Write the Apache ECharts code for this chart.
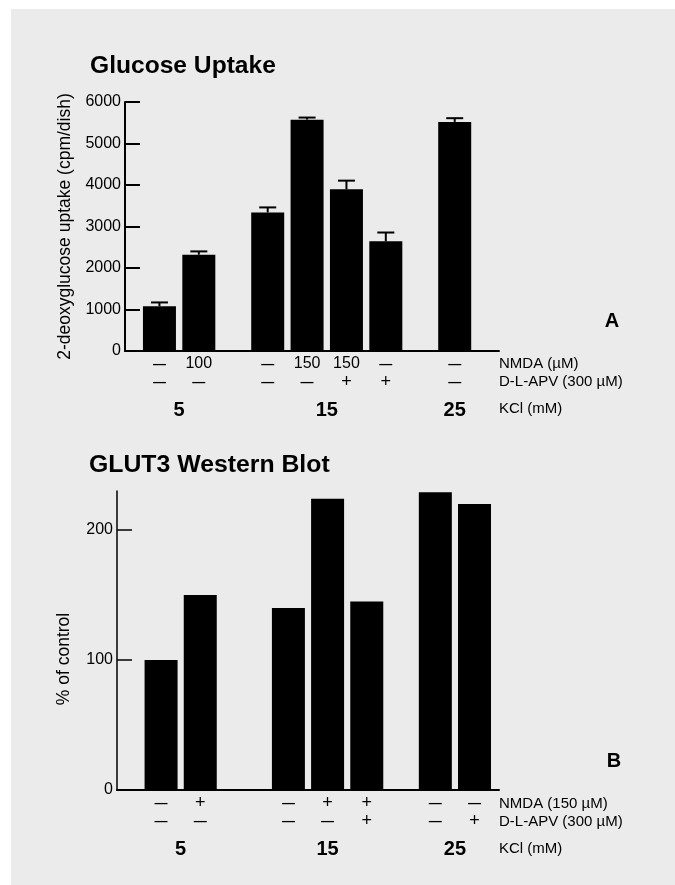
<!DOCTYPE html>
<html>
<head>
<meta charset="utf-8">
<script src="https://cdn.jsdelivr.net/npm/echarts@6/dist/echarts.min.js"></script>
<style>
  html, body { margin: 0; padding: 0; background: #ffffff; overflow: hidden; }
  #bg { position: absolute; left: 11px; top: 9px; width: 664px; height: 876px; background: #ebebeb; }
  #chart { position: absolute; left: 0; top: 0; width: 675px; height: 885px; }
</style>
</head>
<body>
<div id="bg"></div>
<div id="chart"></div>
<script>
// ---------- Panel A: Glucose Uptake ----------
const uptakeNMDA   = ['—', '100', '—', '150', '150', '—', '—'];
const uptakeAPV    = ['—', '—', '—', '—', '+', '+', '—'];
const uptakeKCl    = ['5', '5', '15', '15', '15', '15', '25'];
const uptakeValues = [1080, 2320, 3340, 5575, 3895, 2645, 5520];
const uptakeErrors = [90, 80, 120, 50, 210, 210, 90];
const uptakeTicks  = [0, 1000, 2000, 3000, 4000, 5000, 6000];

// ---------- Panel B: GLUT3 Western Blot ----------
const glutNMDA   = ['—', '+', '—', '+', '+', '—', '—'];
const glutAPV    = ['—', '—', '—', '—', '+', '—', '+'];
const glutKCl    = ['5', '5', '15', '15', '15', '25', '25'];
const glutValues = [100, 150, 140, 224, 145, 229, 220];
const glutTicks  = [0, 100, 200];

// ---------- layout helpers ----------
function buildLayout(kcl, lead, step, extras, total) {
  const slots = [];
  let s = lead, g = 0;
  kcl.forEach((k, i) => {
    if (i > 0) { s += step; if (k !== kcl[i - 1]) { s += extras[g++]; } }
    slots.push(s);
  });
  const groups = [];
  kcl.forEach((k, i) => {
    let grp = groups.find(x => x.name === k);
    if (!grp) { grp = { name: k, first: slots[i], last: slots[i] }; groups.push(grp); }
    grp.last = slots[i];
  });
  groups.forEach(grp => grp.mid = Math.round((grp.first + grp.last) / 2));
  const cats = [];
  for (let i = 0; i < total; i++) cats.push(String(i));
  return { slots, groups, cats };
}
function tok(s) {
  if (s === '—') return '{d|—}';
  if (s === '+') return '{p|+}';
  return '{t|' + s + '}';
}
function buildLabels(layout, nmda, apv, total) {
  const labels = [];
  for (let i = 0; i < total; i++) {
    const bi = layout.slots.indexOf(i);
    const grp = layout.groups.find(g => g.mid === i);
    let l1 = '{t| }', l2 = '{t| }';
    if (bi >= 0) { l1 = tok(nmda[bi]); l2 = tok(apv[bi]); }
    if (grp) labels.push(l1 + '\n' + l2 + '\n{sp| }\n{k|' + grp.name + '}');
    else if (bi >= 0) labels.push(l1 + '\n' + l2);
    else labels.push('');
  }
  return labels;
}

const FONT = "'Liberation Sans', Arial, Helvetica, sans-serif";
const richStyles = {
  t: { fontSize: 16, lineHeight: 18, align: 'center', color: '#000', fontFamily: FONT },
  d: { fontSize: 13, lineHeight: 18, fontWeight: 'bold', align: 'center', color: '#000', fontFamily: FONT },
  p: { fontSize: 18, lineHeight: 18, align: 'center', color: '#000', fontFamily: FONT },
  sp: { fontSize: 4, lineHeight: 8, align: 'center' },
  k: { fontSize: 20, lineHeight: 22, fontWeight: 'bold', align: 'center', color: '#000', fontFamily: FONT }
};

const totalA = 38, totalB = 39;
const layA = buildLayout(uptakeKCl, 3, 4, [3, 3], totalA);
const layB = buildLayout(glutKCl, 4, 4, [5, 3], totalB);
const labelsA = buildLabels(layA, uptakeNMDA, uptakeAPV, totalA);
const labelsB = buildLabels(layB, glutNMDA, glutAPV, totalB);

const dataA = uptakeValues.map((v, i) => [layA.slots[i], v, uptakeErrors[i]]);
const dataB = glutValues.map((v, i) => [layB.slots[i], v]);

const BAR_W = 33, CAP_W = 17;

function renderBar(withErr) {
  return function (params, api) {
    const x = api.value(0), v = api.value(1);
    const base = api.coord([x, 0]);
    const top = api.coord([x, v]);
    const children = [{
      type: 'rect',
      shape: { x: base[0] - BAR_W / 2, y: top[1], width: BAR_W, height: base[1] - top[1] },
      style: { fill: '#000' }
    }];
    if (withErr) {
      const et = api.coord([x, v + api.value(2)]);
      children.push({ type: 'line', shape: { x1: top[0], y1: top[1], x2: top[0], y2: et[1] }, style: { stroke: '#000', lineWidth: 2 } });
      children.push({ type: 'line', shape: { x1: top[0] - CAP_W / 2, y1: et[1], x2: top[0] + CAP_W / 2, y2: et[1] }, style: { stroke: '#000', lineWidth: 2 } });
    }
    return { type: 'group', children };
  };
}

function xAxisFor(cats, labels, gridIndex) {
  return {
    type: 'category', gridIndex, data: cats, boundaryGap: true,
    axisLine: { show: true, lineStyle: { color: '#000', width: 2 } },
    axisTick: { show: false },
    splitLine: { show: false },
    axisLabel: {
      interval: 0, margin: 4, hideOverlap: false,
      formatter: (val, idx) => labels[idx],
      rich: richStyles
    }
  };
}

const option = {
  backgroundColor: 'transparent',
  animation: false,
  textStyle: { fontFamily: FONT, color: '#000' },
  grid: [
    { left: 125, top: 102, width: 374, height: 249, outerBoundsMode: 'none', containLabel: false },
    { left: 117, top: 491, width: 382, height: 299, outerBoundsMode: 'none', containLabel: false }
  ],
  xAxis: [xAxisFor(layA.cats, labelsA, 0), xAxisFor(layB.cats, labelsB, 1)],
  yAxis: [
    {
      type: 'value', gridIndex: 0, min: uptakeTicks[0], max: uptakeTicks[uptakeTicks.length - 1], interval: 1000,
      name: '2-deoxyglucose uptake (cpm/dish)', nameLocation: 'middle', nameRotate: 90, nameGap: 47,
      nameTextStyle: { fontSize: 17.5, color: '#000', fontFamily: FONT },
      axisLine: { show: true, lineStyle: { color: '#000', width: 2 } },
      axisTick: { show: true, inside: true, length: 15, lineStyle: { color: '#000', width: 2 }, customValues: uptakeTicks },
      axisLabel: { margin: 4, fontSize: 16, color: '#000', customValues: uptakeTicks, formatter: v => String(v) },
      splitLine: { show: false }
    },
    {
      type: 'value', gridIndex: 1, min: 0, max: 230, interval: 100,
      name: '% of control', nameLocation: 'middle', nameRotate: 90, nameGap: 44,
      nameTextStyle: { fontSize: 17.5, color: '#000', fontFamily: FONT, padding: [0, 37, 0, 0] },
      axisLine: { show: true, lineStyle: { color: '#000', width: 1.5 } },
      axisTick: { show: true, inside: true, length: 15, lineStyle: { color: '#000', width: 1.5 }, customValues: glutTicks },
      axisLabel: { margin: 4, fontSize: 16, color: '#000', customValues: glutTicks, formatter: v => String(v) },
      splitLine: { show: false }
    }
  ],
  series: [
    { type: 'custom', xAxisIndex: 0, yAxisIndex: 0, data: dataA, renderItem: renderBar(true), encode: { x: 0, y: 1 }, clip: false, z: 1 },
    { type: 'custom', xAxisIndex: 1, yAxisIndex: 1, data: dataB, renderItem: renderBar(false), encode: { x: 0, y: 1 }, clip: false, z: 1 }
  ],
  graphic: [
    { type: 'text', x: 90, y: 66, style: { text: 'Glucose Uptake', font: 'bold 24.6px ' + FONT, fill: '#000', verticalAlign: 'middle' } },
    { type: 'text', x: 89, y: 465, style: { text: 'GLUT3 Western Blot', font: 'bold 24.8px ' + FONT, fill: '#000', verticalAlign: 'middle' } },
    { type: 'text', x: 612, y: 321, style: { text: 'A', font: 'bold 20px ' + FONT, fill: '#000', align: 'center', verticalAlign: 'middle' } },
    { type: 'text', x: 614, y: 761, style: { text: 'B', font: 'bold 20px ' + FONT, fill: '#000', align: 'center', verticalAlign: 'middle' } },
    { type: 'text', x: 499, y: 364, style: { text: 'NMDA (µM)', font: '15px ' + FONT, fill: '#000', verticalAlign: 'middle' } },
    { type: 'text', x: 499, y: 382, style: { text: 'D-L-APV (300 µM)', font: '15px ' + FONT, fill: '#000', verticalAlign: 'middle' } },
    { type: 'text', x: 499, y: 409, style: { text: 'KCl (mM)', font: '15px ' + FONT, fill: '#000', verticalAlign: 'middle' } },
    { type: 'text', x: 499, y: 804, style: { text: 'NMDA (150 µM)', font: '15px ' + FONT, fill: '#000', verticalAlign: 'middle' } },
    { type: 'text', x: 499, y: 822, style: { text: 'D-L-APV (300 µM)', font: '15px ' + FONT, fill: '#000', verticalAlign: 'middle' } },
    { type: 'text', x: 499, y: 849, style: { text: 'KCl (mM)', font: '15px ' + FONT, fill: '#000', verticalAlign: 'middle' } }
  ]
};

const chart = echarts.init(document.getElementById('chart'), null, { renderer: 'canvas' });
chart.setOption(option);
</script>
</body>
</html>
